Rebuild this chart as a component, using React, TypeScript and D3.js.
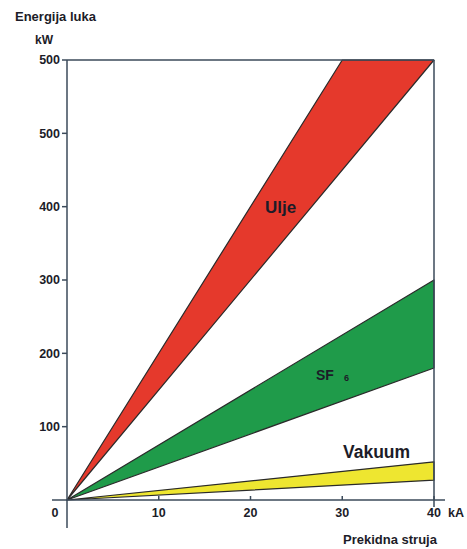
import * as d3 from 'd3';

// struja u kA, energija u kW
const xTicks = [10, 20, 30, 40];
const yTicks = [100, 200, 300, 400, 500, 600];
const yTickLabels = ['100', '200', '300', '400', '500', '500'];

const uljeUpper: [number, number][] = [[0, 0], [30, 600]];
const uljeLower: [number, number][] = [[0, 0], [40, 600]];
const sf6Upper: [number, number][] = [[0, 0], [40, 300]];
const sf6Lower: [number, number][] = [[0, 0], [40, 180]];
const vakuumUpper: [number, number][] = [[0, 0], [40, 52]];
const vakuumLower: [number, number][] = [[0, 0], [40, 27]];

const width = 467;
const height = 549;
const axisColor = '#3b4a5a';
const textColor = '#1c1c28';
const font = '"Liberation Sans", Arial, sans-serif';

export default function App() {
  const x = d3.scaleLinear().domain([0, 40]).range([67, 434]);
  const y = d3.scaleLinear().domain([0, 600]).range([500, 60]);

  const line = d3.line<[number, number]>()
    .x(d => x(d[0]))
    .y(d => y(d[1]));

  const band = (upper: [number, number][], lower: [number, number][]) =>
    line([...upper, ...lower.slice().reverse()]) + 'Z';

  const bands = [
    { d: band(uljeUpper, uljeLower), fill: '#e5392c' },
    { d: band(sf6Upper, sf6Lower), fill: '#1f9b4a' },
    { d: band(vakuumUpper, vakuumLower), fill: '#eee630' },
  ];

  return (
    <div style={{ position: 'absolute', left: 0, top: 0 }}>
      <svg width={width} height={height} style={{ display: 'block', background: '#fff' }}>
        {bands.map((b, i) => (
          <path key={i} d={b.d} fill={b.fill} stroke="#2a2a2a" strokeWidth={1.2} strokeLinejoin="round" />
        ))}

        {/* okvir i osi */}
        <g stroke={axisColor} strokeWidth={1.5} fill="none">
          <line x1={x(0)} x2={x(0)} y1={y(600)} y2={528} />
          <line x1={52} x2={445} y1={y(0)} y2={y(0)} />
          <line x1={x(0)} x2={x(40)} y1={y(600)} y2={y(600)} />
          <line x1={x(40)} x2={x(40)} y1={y(600)} y2={y(0) + 7} />
          {yTicks.map(t => (
            <line key={t} x1={x(0) - 5} x2={x(0)} y1={y(t)} y2={y(t)} />
          ))}
          {xTicks.map(t => (
            <line key={t} x1={x(t)} x2={x(t)} y1={y(0) - 4} y2={y(0)} />
          ))}
        </g>

        <g fontFamily={font} fontWeight="bold" fontSize={12.5} fill={textColor}>
          {yTicks.map((t, i) => (
            <text key={t} x={x(0) - 7} y={y(t)} dy="0.35em" textAnchor="end">
              {yTickLabels[i]}
            </text>
          ))}
          <text x={x(0) - 12} y={y(0) + 17} textAnchor="middle">0</text>
          {xTicks.map(t => (
            <text key={t} x={x(t)} y={y(0) + 17} textAnchor="middle">{t}</text>
          ))}
          <text x={448} y={y(0) + 17}>kA</text>
        </g>

        <g fontFamily={font} fontWeight="bold" fill={textColor}>
          <text x={15} y={21} fontSize={13}>Energija luka</text>
          <text x={35} y={44} fontSize={12}>kW</text>
          <text x={343} y={544} fontSize={13}>Prekidna struja</text>
        </g>

        <g fontFamily={font} fontWeight="bold" fill={textColor}>
          <text x={265} y={213} fontSize={17}>Ulje</text>
          <text x={316} y={380} fontSize={14}>SF</text>
          <text x={344} y={381} fontSize={9}>6</text>
          <text x={343} y={458} fontSize={17.5}>Vakuum</text>
        </g>
      </svg>
    </div>
  );
}
